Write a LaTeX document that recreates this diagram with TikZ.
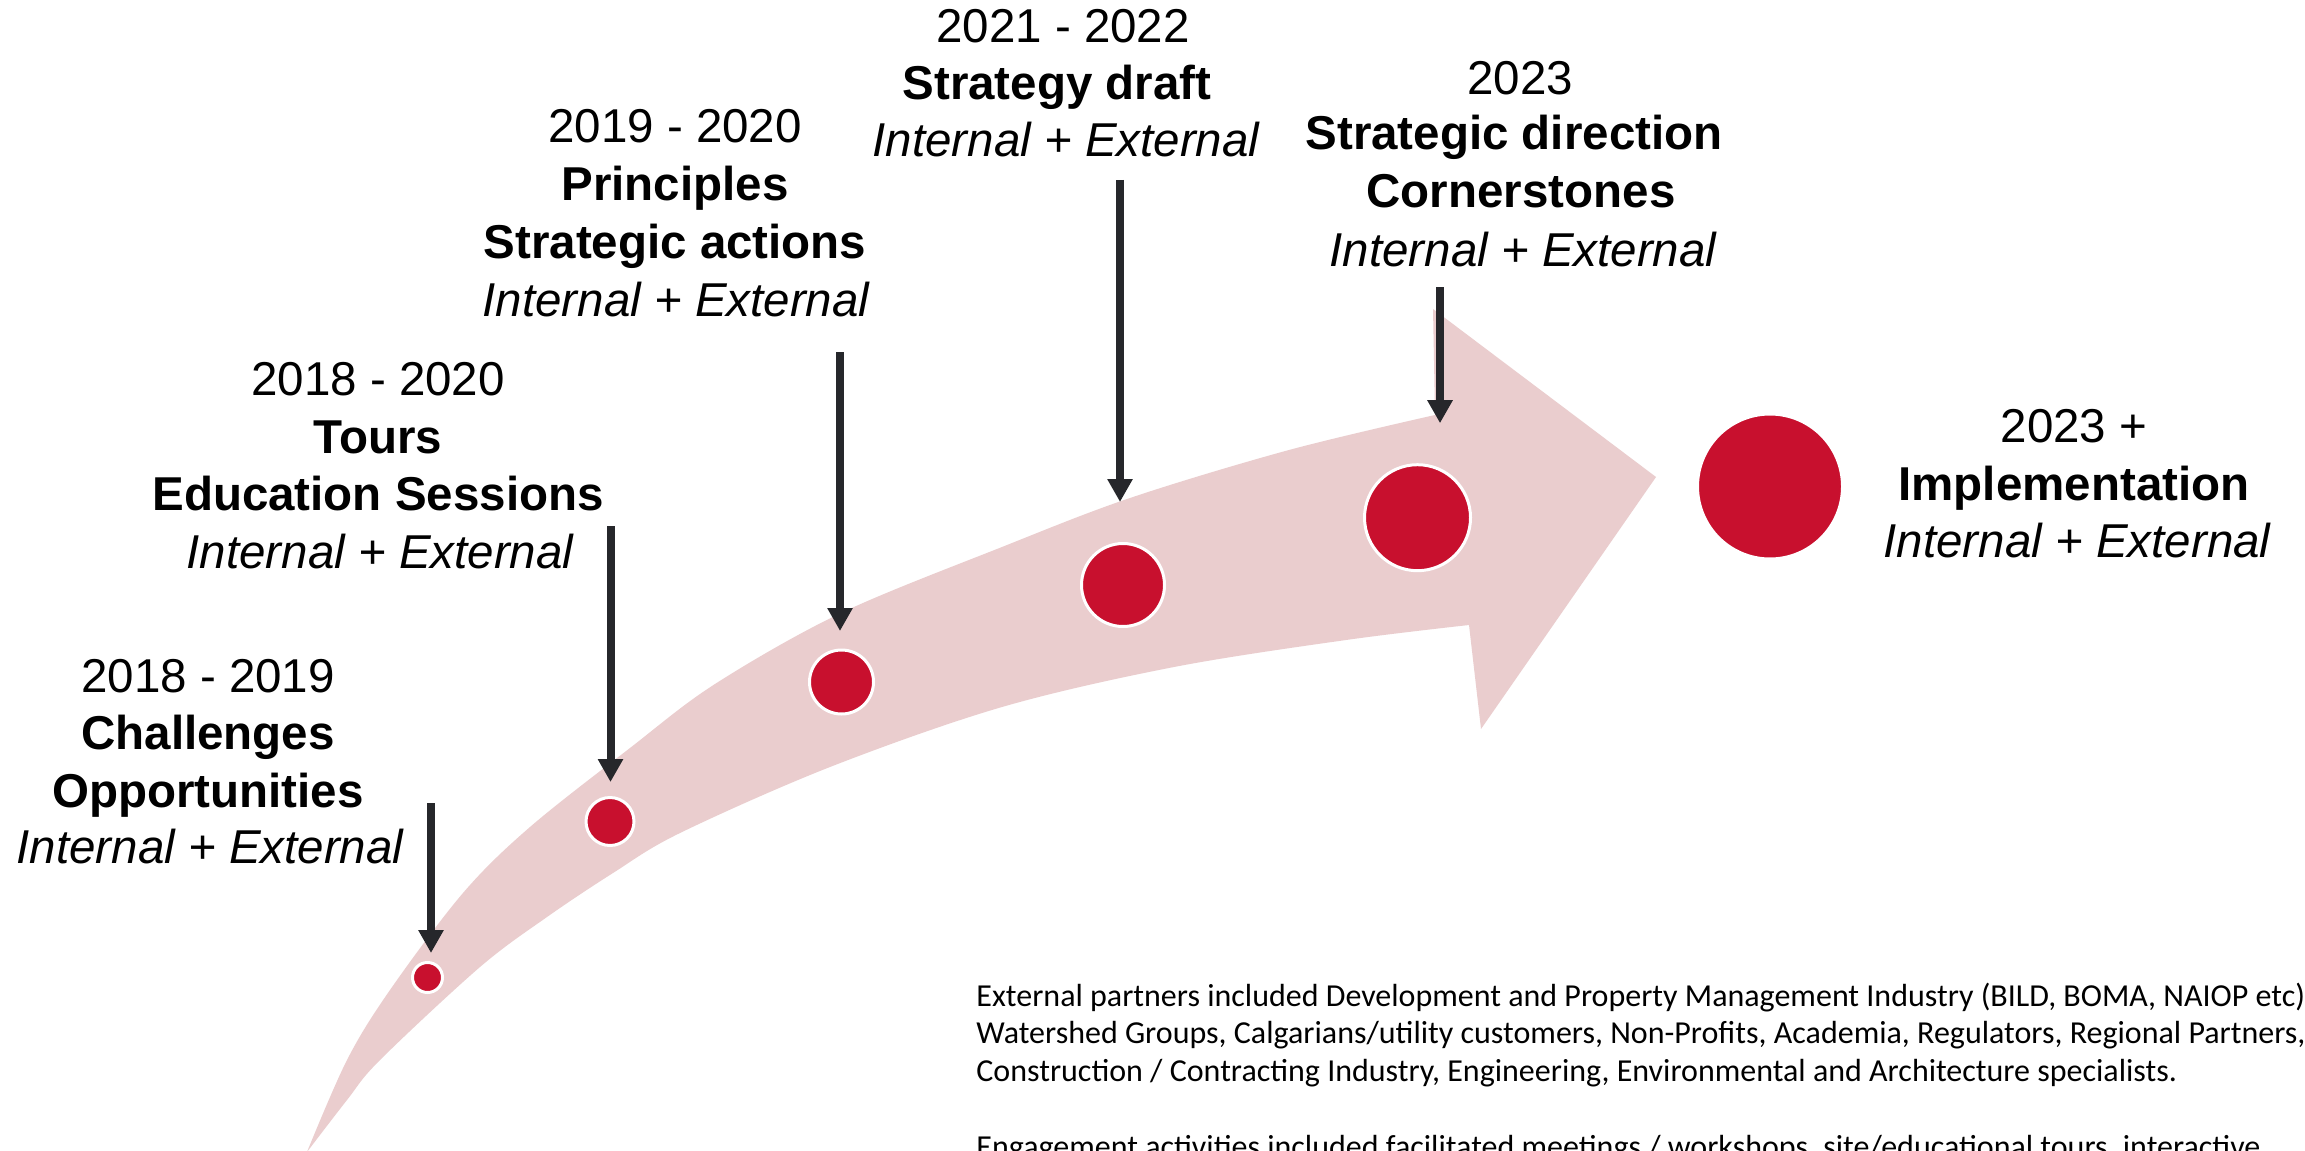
\documentclass[tikz,border=0pt]{standalone}
\usepackage{fontspec}
\setmainfont{Liberation Sans}
\newfontfamily\notefont{Carlito}
\usetikzlibrary{arrows.meta}
\definecolor{bandpink}{RGB}{234,205,206}
\definecolor{dotred}{RGB}{200,16,46}
\definecolor{pointer}{RGB}{38,39,43}
\begin{document}
\begin{tikzpicture}[x=0.5pt,y=-0.5pt,
  lyear/.style={font=\fontsize{23.75pt}{28pt}\selectfont, anchor=base, inner sep=0pt},
  lbold/.style={font=\fontsize{23.75pt}{28pt}\selectfont\bfseries, anchor=base, inner sep=0pt},
  lital/.style={font=\fontsize{23.75pt}{28pt}\selectfont\itshape, anchor=base, inner sep=0pt},
  note/.style={font=\notefont\fontsize{16pt}{19pt}\selectfont, anchor=base west, inner sep=0pt},
  dot/.style={circle, fill=dotred, draw=white, line width=1.5pt, inner sep=0pt},
  pointerarrow/.style={draw=pointer, line width=4pt, -{Triangle[length=11.5pt,width=12pt]}}
]
\useasboundingbox (0,0) rectangle (2305,1150);
\clip (0,0) rectangle (2305,1150);
\fill[white] (0,0) rectangle (2305,1150);

% curved band arrow
\fill[bandpink]
  plot[smooth, tension=0.55] coordinates {(307,1152) (347,1060) (390,990) (463,893) (530,827) (630,748) (715,684) (841,613) (1002,547) (1130,498) (1289,450) (1435,415)}
  -- (1433,309) -- (1656,477) -- (1481,729) -- (1469,625)
  -- plot[smooth, tension=0.55] coordinates {(1469,625) (1346,640) (1174,667) (1002,707) (830,767) (680,833) (613,873) (547,917) (480,967) (380,1060) (347,1100) (307,1152)}
  -- cycle;

% milestones
\node[dot, minimum size=15pt]   (c1) at (427.5,977.5) {};
\node[dot, minimum size=24pt]   (c2) at (610,821.5) {};
\node[dot, minimum size=32pt]   (c3) at (841.5,682) {};
\node[dot, minimum size=41.5pt] (c4) at (1123,585) {};
\node[dot, minimum size=53pt]   (c5) at (1417.5,517.7) {};
\node[dot, minimum size=72.5pt] (c6) at (1770,486.5) {};

% pointer arrows
\coordinate (s1) at (431,803);
\coordinate (s2) at (610.5,526);
\coordinate (s3) at (840,352);
\coordinate (s4) at (1120,180);
\coordinate (s5) at (1440,287);
\draw[pointerarrow, shorten >=4pt]  (s1) -- (s1 |- c1.north);
\draw[pointerarrow, shorten >=7pt]  (s2) -- (s2 |- c2.north);
\draw[pointerarrow, shorten >=8.75pt] (s3) -- (s3 |- c3.north);
\draw[pointerarrow, shorten >=20pt] (s4) -- (s4 |- c4.north);
\draw[pointerarrow, shorten >=20pt] (s5) -- (s5 |- c5.north);

% labels
\node[lyear] (y1)  at (208,692) {2018 - 2019};
\node[lbold] (h1a) at (208,749) {Challenges};
\node[lbold] (h1b) at (208,807) {Opportunities};
\node[lital] (p1)  at (210,863) {Internal + External};

\node[lyear] (y2)  at (378,395) {2018 - 2020};
\node[lbold] (h2a) at (378,453) {Tours};
\node[lbold] (h2b) at (378,510) {Education Sessions};
\node[lital] (p2)  at (380,568) {Internal + External};

\node[lyear] (y3)  at (675,143) {2019 - 2020};
\node[lbold] (h3a) at (675,201) {Principles};
\node[lbold] (h3b) at (675,258) {Strategic actions};
\node[lital] (p3)  at (676,316) {Internal + External};

\node[lyear] (y4)  at (1063,43) {2021 - 2022};
\node[lbold] (h4a) at (1057,100) {Strategy draft};
\node[lital] (p4)  at (1066,157) {Internal + External};

\node[lyear] (y5)  at (1520,95) {2023};
\node[lbold] (h5a) at (1514,150) {Strategic direction};
\node[lbold] (h5b) at (1521,208) {Cornerstones};
\node[lital] (p5)  at (1523,266) {Internal + External};

\node[lyear] (y6)  at (2074,442) {2023 +};
\node[lbold] (h6a) at (2074,500) {Implementation};
\node[lital] (p6)  at (2077,557) {Internal + External};

% notes
\node[note] (n1) at (976,1006) {External partners included Development and Property Management Industry (BILD, BOMA, NAIOP etc),};
\node[note] (n2) at (976,1043.5) {Watershed Groups, Calgarians/utility customers, Non-Profits, Academia, Regulators, Regional Partners,};
\node[note] (n3) at (976,1081) {Construction / Contracting Industry, Engineering, Environmental and Architecture specialists.};
\node[note] (n5) at (976,1157) {Engagement activities included facilitated meetings / workshops, site/educational tours, interactive};
\end{tikzpicture}
\end{document}
